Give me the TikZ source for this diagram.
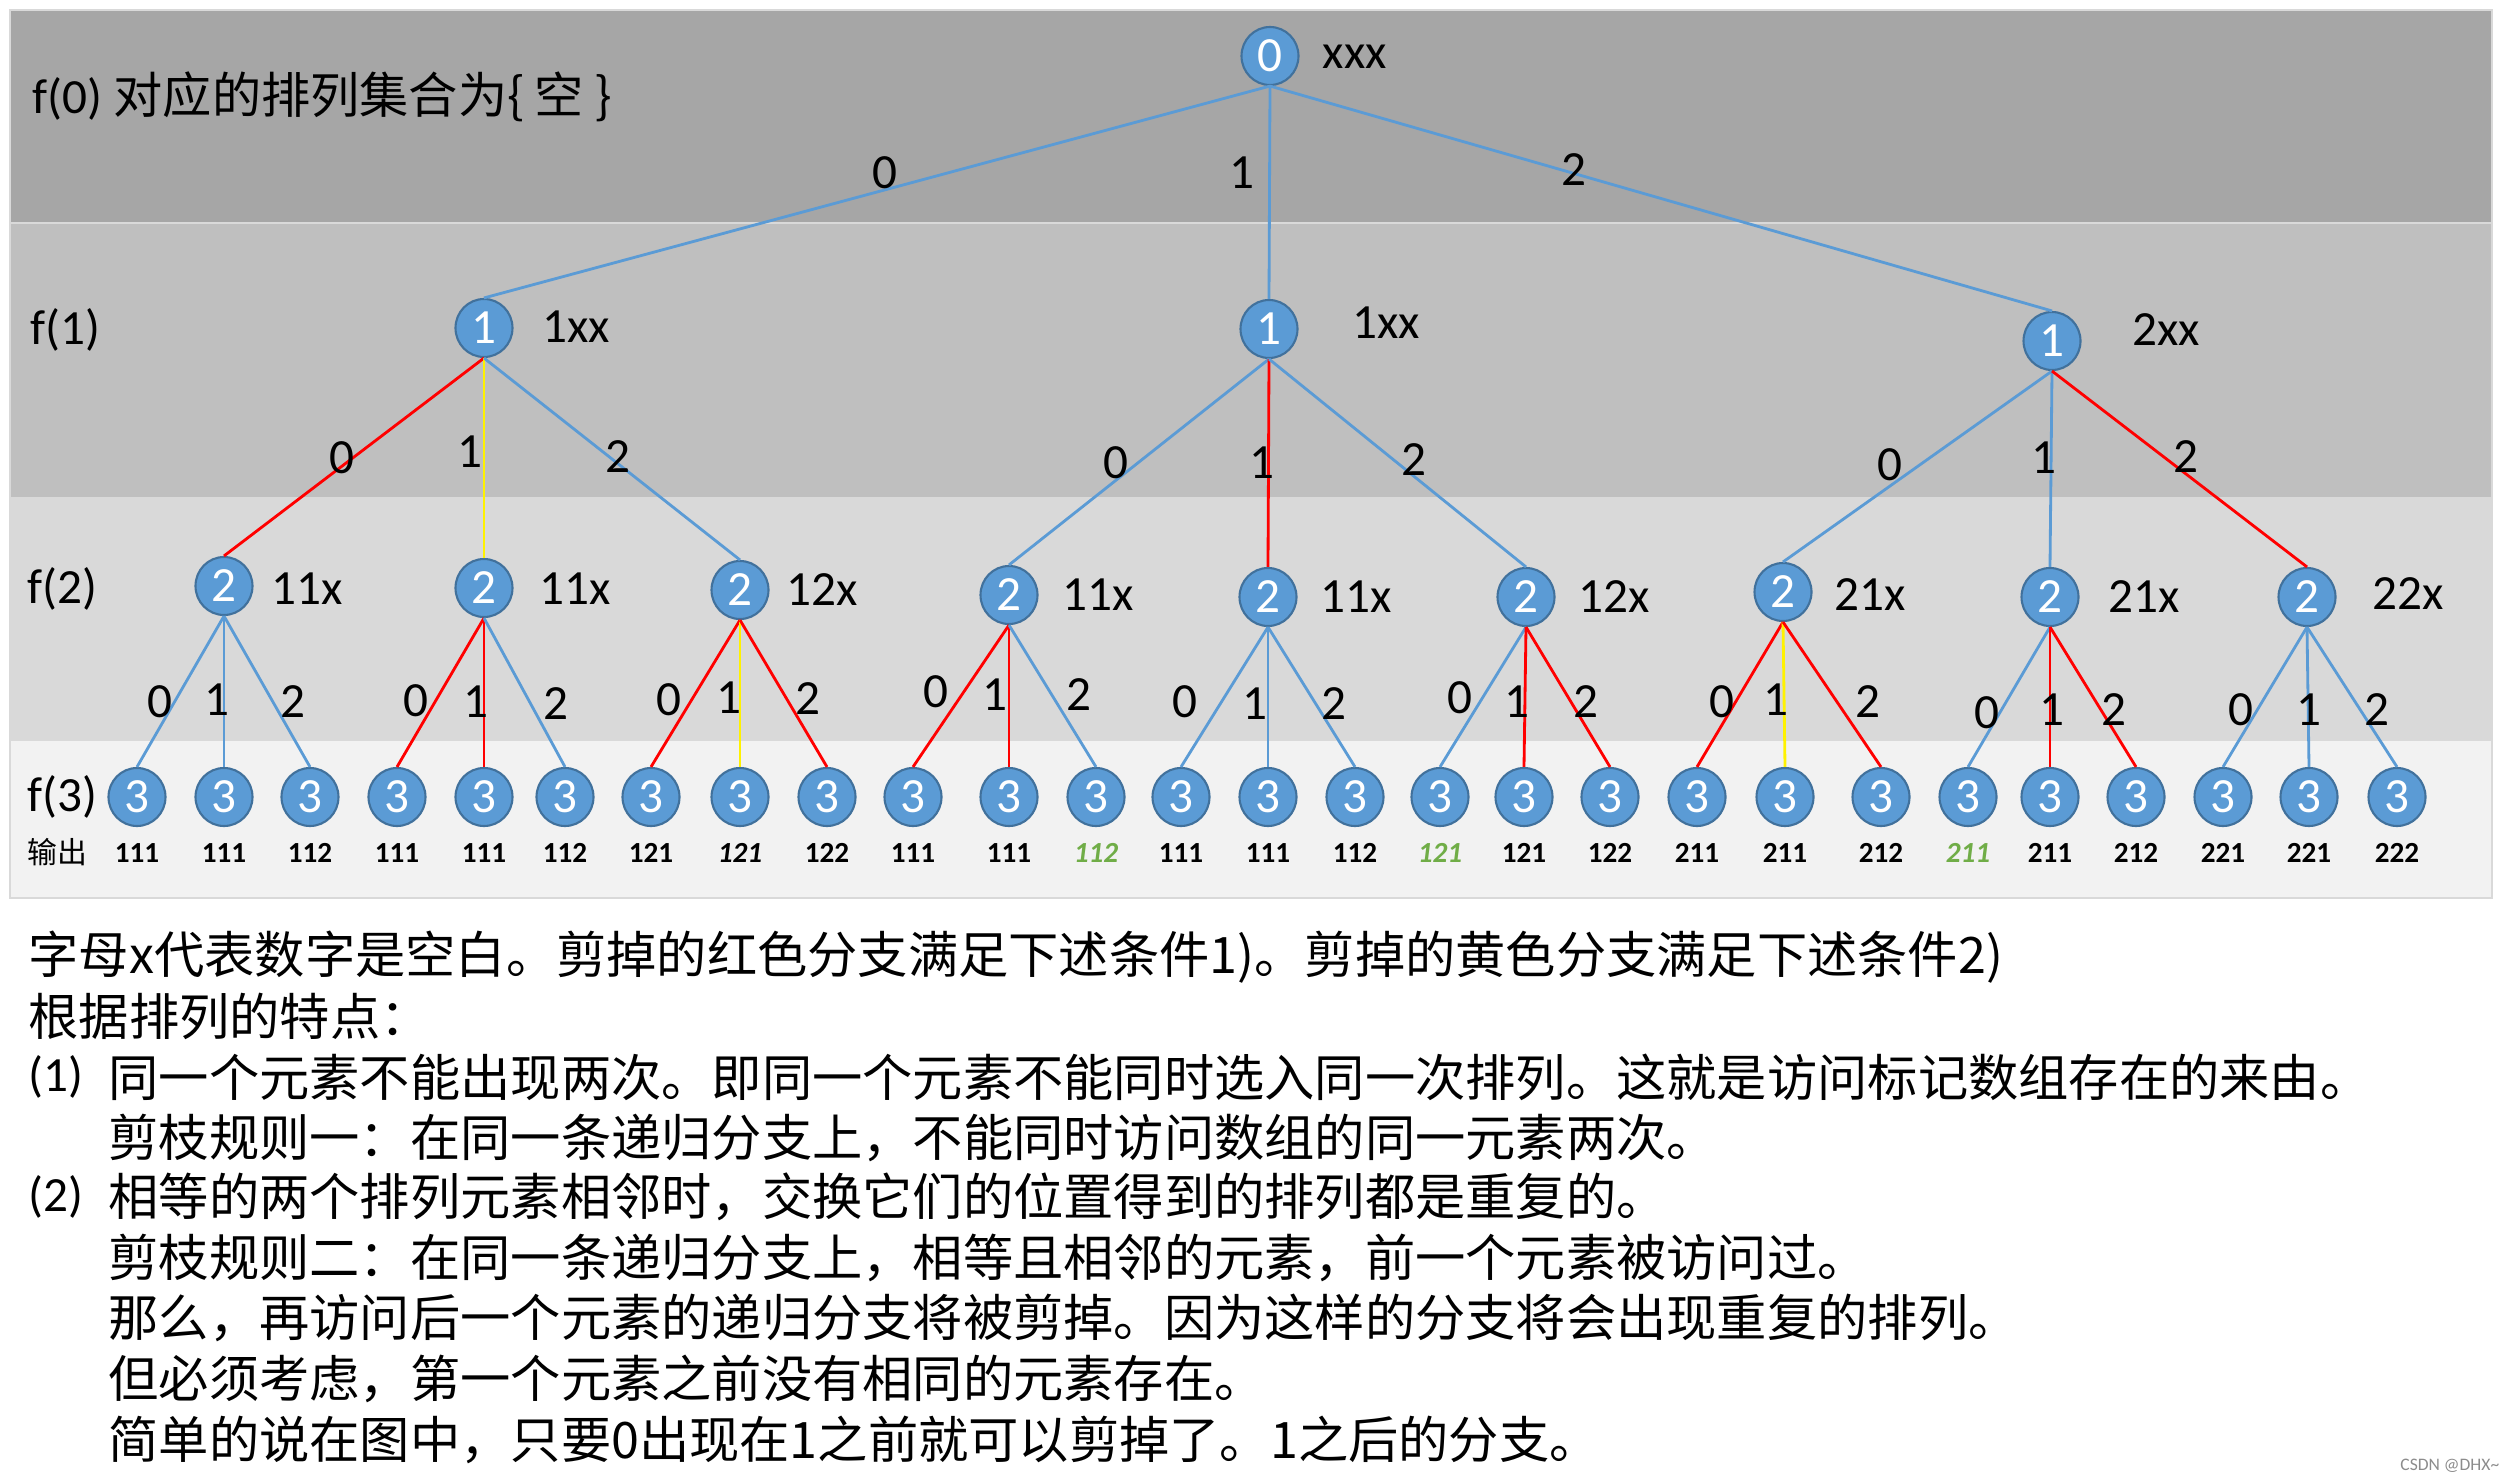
\documentclass[tikz,border=0pt]{standalone}
\usepackage{fontspec}
\setmainfont{Carlito}
\newfontfamily\cjk{Noto Sans CJK SC}
\usepackage{tikz}
\usetikzlibrary{shapes.geometric}
\definecolor{bandA}{HTML}{A6A6A6}
\definecolor{bandB}{HTML}{BFBFBF}
\definecolor{bandC}{HTML}{D9D9D9}
\definecolor{bandD}{HTML}{F2F2F2}
\definecolor{nodeblue}{HTML}{5B9BD5}
\definecolor{nodeline}{HTML}{41719C}
\definecolor{edgeblue}{HTML}{5B9BD5}
\definecolor{greenlbl}{HTML}{70AD47}

\begin{document}
\begin{tikzpicture}[
    vtx/.style={ellipse, fill=nodeblue, draw=nodeline, line width=0.6pt, minimum width=0.57cm, minimum height=0.58cm, inner sep=0pt, text=white, font=\fontsize{14}{14}\selectfont},
    tag/.style={anchor=west, inner sep=0pt, font=\fontsize{14}{14}\selectfont},
    num/.style={inner sep=0pt, font=\fontsize{14}{14}\selectfont},
    band/.style={draw=black!15, line width=0.8pt, fill=#1},
    keep/.style={draw=edgeblue, line width=0.8pt},
    redcut/.style={draw=red, line width=0.8pt},
    yelcut/.style={draw=yellow, line width=0.8pt},
    res/.style={inner sep=0pt, font=\bfseries\fontsize{8.3}{8.3}\selectfont},
    resit/.style={res, font=\bfseries\itshape\fontsize{8.3}{8.3}\selectfont},
    resgreen/.style={resit, text=greenlbl},
    note/.style={anchor=west, inner sep=0pt, font=\cjk\fontsize{14.3}{14.3}\selectfont}
  ]
  \useasboundingbox (0,0) rectangle (25.08,-14.81);
  % bands for the four levels
  \draw[band=bandA] (0.10,-0.10) rectangle (24.92,-2.23);
  \draw[band=bandB] (0.10,-2.23) rectangle (24.92,-4.98);
  \draw[band=bandC] (0.10,-4.98) rectangle (24.92,-7.40);
  \draw[band=bandD] (0.10,-7.40) rectangle (24.92,-8.98);
  % level names
  \node[tag] (f0) at (0.32,-0.97) {f(0) {\cjk 对应的排列集合为\{ 空 \}}};
  \node[tag] (f1) at (0.30,-3.30) {f(1)};
  \node[tag] (f2) at (0.27,-5.89) {f(2)};
  \node[tag] (f3) at (0.27,-7.97) {f(3)};
  \node[tag, font=\cjk\fontsize{8.5}{8.5}\selectfont] (f4) at (0.27,-8.52) {输出};
  % root and first level
  \node[vtx] (r) at (12.70,-0.56) {0};
  \node[tag] (rt) at (13.22,-0.57) {xxx};
  \node[vtx] (t1) at (4.84,-3.28) {1};
  \node[tag] (t1t) at (5.42,-3.27) {1xx};
  \node[vtx] (t2) at (12.69,-3.29) {1};
  \node[tag] (t2t) at (13.52,-3.23) {1xx};
  \node[vtx] (t3) at (20.52,-3.41) {1};
  \node[tag] (t3t) at (21.32,-3.30) {2xx};
  % second level
  \node[vtx] (m1) at (2.24,-5.86) {2};
  \node[tag] (m1t) at (2.71,-5.89) {11x};
  \node[vtx] (m2) at (4.84,-5.88) {2};
  \node[tag] (m2t) at (5.39,-5.89) {11x};
  \node[vtx] (m3) at (7.40,-5.90) {2};
  \node[tag] (m3t) at (7.86,-5.90) {12x};
  \node[vtx] (m4) at (10.09,-5.95) {2};
  \node[tag] (m4t) at (10.62,-5.95) {11x};
  \node[vtx] (m5) at (12.68,-5.97) {2};
  \node[tag] (m5t) at (13.20,-5.97) {11x};
  \node[vtx] (m6) at (15.26,-5.97) {2};
  \node[tag] (m6t) at (15.78,-5.97) {12x};
  \node[vtx] (m7) at (17.83,-5.92) {2};
  \node[tag] (m7t) at (18.34,-5.95) {21x};
  \node[vtx] (m8) at (20.50,-5.97) {2};
  \node[tag] (m8t) at (21.08,-5.97) {21x};
  \node[vtx] (m9) at (23.07,-5.97) {2};
  \node[tag] (m9t) at (23.72,-5.94) {22x};
  % leaves with what they output
  \foreach \x/\t/\s [count=\i] in {1.37/111/res, 2.24/111/res, 3.10/112/res, 3.97/111/res, 4.84/111/res, 5.65/112/res, 6.51/121/res, 7.40/121/resit, 8.27/122/res, 9.13/111/res, 10.09/111/res, 10.96/112/resgreen, 11.81/111/res, 12.68/111/res, 13.55/112/res, 14.40/121/resgreen, 15.24/121/res, 16.10/122/res, 16.97/211/res, 17.85/211/res, 18.81/212/res, 19.68/211/resgreen, 20.50/211/res, 21.36/212/res, 22.23/221/res, 23.09/221/res, 23.97/222/res}{
    \node[vtx] (l\i) at (\x,-7.97) {3};
    \node[\s] (o\i) at (\x,-8.53) {\t};
  }
  % branches
  \draw[keep] (r.south) -- (t1.north);
  \draw[keep] (r.south) -- (t2.north);
  \draw[keep] (r.south) -- (t3.north);
  \draw[redcut] (t1.south) -- (m1.north);
  \draw[yelcut] (t1.south) -- (m2.north);
  \draw[keep] (t1.south) -- (m3.north);
  \draw[keep] (t2.south) -- (m4.north);
  \draw[redcut] (t2.south) -- (m5.north);
  \draw[keep] (t2.south) -- (m6.north);
  \draw[keep] (t3.south) -- (m7.north);
  \draw[keep] (t3.south) -- (m8.north);
  \draw[redcut] (t3.south) -- (m9.north);
  \foreach \a/\b/\c [count=\j] in {keep/keep/keep, redcut/redcut/keep, redcut/yelcut/redcut, redcut/redcut/keep, keep/keep/keep, keep/redcut/redcut, redcut/yelcut/redcut, keep/redcut/redcut, keep/keep/keep}{
    \pgfmathtruncatemacro\u{3*\j-2}
    \pgfmathtruncatemacro\v{3*\j-1}
    \pgfmathtruncatemacro\w{3*\j}
    \draw[\a] (m\j.south) -- (l\u.north);
    \draw[\b] (m\j.south) -- (l\v.north);
    \draw[\c] (m\j.south) -- (l\w.north);
  }
  % branch digits
  \node[num] (b1) at (8.85,-1.73) {0};
  \node[num] (b2) at (12.42,-1.73) {1};
  \node[num] (b3) at (15.74,-1.70) {2};
  \node[num] (c1) at (3.42,-4.58) {0};
  \node[num] (c2) at (4.70,-4.52) {1};
  \node[num] (c3) at (6.18,-4.57) {2};
  \node[num] (c4) at (11.16,-4.63) {0};
  \node[num] (c5) at (12.62,-4.63) {1};
  \node[num] (c6) at (14.14,-4.60) {2};
  \node[num] (c7) at (18.90,-4.65) {0};
  \node[num] (c8) at (20.44,-4.58) {1};
  \node[num] (c9) at (21.86,-4.57) {2};
  \foreach \x/\y/\t [count=\i] in {1.60/-7.02/0, 2.17/-7.00/1, 2.93/-7.02/2, 4.16/-7.01/0, 4.76/-7.02/1, 5.56/-7.04/2, 6.69/-7.00/0, 7.29/-6.98/1, 8.08/-6.99/2, 9.36/-6.92/0, 9.95/-6.95/1, 10.79/-6.95/2, 11.85/-7.02/0, 12.55/-7.04/1, 13.34/-7.04/2, 14.60/-6.98/0, 15.17/-7.02/1, 15.86/-7.02/2, 17.22/-7.02/0, 17.76/-7.00/1, 18.68/-7.02/2, 19.87/-7.13/0, 20.52/-7.10/1, 21.14/-7.10/2, 22.41/-7.10/0, 23.09/-7.10/1, 23.77/-7.10/2}
    \node[num] (d\i) at (\x,\y) {\t};
  % explanation
  \node[note] (n1) at (0.28,-9.57) {字母x代表数字是空白。剪掉的红色分支满足下述条件1)。剪掉的黄色分支满足下述条件2)};
  \node[note] (n2) at (0.28,-10.16) {根据排列的特点：};
  \node[tag] (p1) at (0.28,-10.77) {(1)};
  \node[note] (n3) at (1.08,-10.77) {同一个元素不能出现两次。即同一个元素不能同时选入同一次排列。这就是访问标记数组存在的来由。};
  \node[note] (n4) at (1.08,-11.38) {剪枝规则一：在同一条递归分支上，不能同时访问数组的同一元素两次。};
  \node[tag] (p2) at (0.28,-11.97) {(2)};
  \node[note] (n5) at (1.08,-11.97) {相等的两个排列元素相邻时，交换它们的位置得到的排列都是重复的。};
  \node[note] (n6) at (1.08,-12.58) {剪枝规则二：在同一条递归分支上，相等且相邻的元素，前一个元素被访问过。};
  \node[note] (n7) at (1.08,-13.18) {那么，再访问后一个元素的递归分支将被剪掉。因为这样的分支将会出现重复的排列。};
  \node[note] (n8) at (1.08,-13.79) {但必须考虑，第一个元素之前没有相同的元素存在。};
  \node[note] (n9) at (1.08,-14.40) {简单的说在图中，只要0出现在1之前就可以剪掉了。1之后的分支。};
  \node[anchor=east, inner sep=0pt, text=black!45, font=\fontsize{5}{5}\selectfont] (wm) at (25.00,-14.66) {CSDN @DHX\textasciitilde};
\end{tikzpicture}
\end{document}
